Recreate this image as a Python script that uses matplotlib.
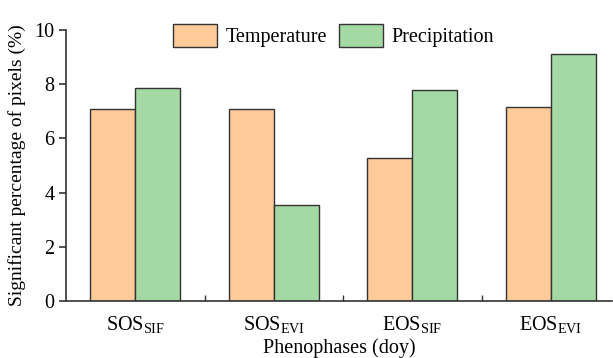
import numpy as np
import matplotlib.pyplot as plt

plt.rcParams['font.family'] = ['Liberation Serif', 'DejaVu Serif']
plt.rcParams['mathtext.fontset'] = 'custom'
plt.rcParams['mathtext.rm'] = 'Liberation Serif'
plt.rcParams['mathtext.it'] = 'Liberation Serif:italic'

phases = [r'SOS$_{\mathrm{SIF}}$', r'SOS$_{\mathrm{EVI}}$',
          r'EOS$_{\mathrm{SIF}}$', r'EOS$_{\mathrm{EVI}}$']
temperature = [7.10, 7.07, 5.28, 7.15]
precipitation = [7.85, 3.53, 7.80, 9.12]

x = np.arange(len(phases))
w = 0.325
fs = 14.5

fig = plt.figure(figsize=(6.13, 3.58), dpi=100)
ax = fig.add_axes([0.108, 0.159, 0.89, 0.757])

ax.bar(x - w / 2, temperature, w, color='#fdca9a', edgecolor='#333333',
       linewidth=1, label='Temperature')
ax.bar(x + w / 2, precipitation, w, color='#a4d9a4', edgecolor='#333333',
       linewidth=1, label='Precipitation')

ax.set_xlim(-0.5, 3.44)
ax.set_ylim(0, 10)
ax.set_yticks([0, 2, 4, 6, 8, 10])
ax.set_xticks(x)
ax.set_xticklabels(phases)
ax.set_xticks([0.5, 1.5, 2.5], minor=True)
ax.tick_params(axis='x', which='major', length=0, pad=9, labelsize=fs)
ax.tick_params(axis='x', which='minor', direction='in', length=4, width=1,
               color='#333333')
ax.tick_params(axis='y', direction='out', length=5, width=1.2,
               color='#333333', labelsize=fs)

for s in ['top', 'right']:
    ax.spines[s].set_visible(False)
for s in ['left', 'bottom']:
    ax.spines[s].set_linewidth(1.2)
    ax.spines[s].set_color('#333333')

ax.set_xlabel('Phenophases (doy)', fontsize=fs, labelpad=3)
ax.set_ylabel('Significant percentage of pixels (%)', fontsize=14, labelpad=6)

ax.legend(loc='upper center', bbox_to_anchor=(0.49, 1.09), ncol=2,
          frameon=False, fontsize=fs, handlelength=2.2, handleheight=1.4,
          handletextpad=0.4, columnspacing=0.6)

fig.savefig('out.png', dpi=100)
